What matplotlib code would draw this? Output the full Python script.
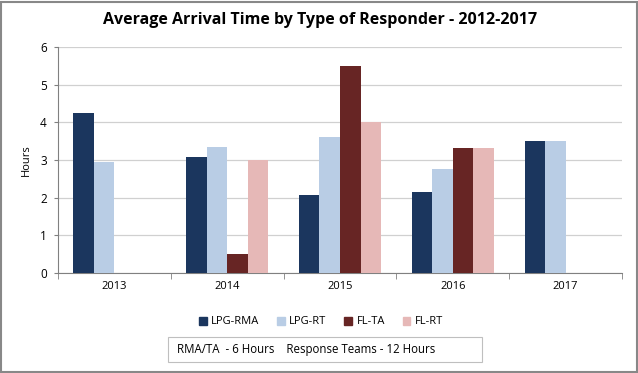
import matplotlib
matplotlib.use("Agg")
import matplotlib.pyplot as plt
import numpy as np
from matplotlib.patches import Rectangle, Patch

years = ["2013", "2014", "2015", "2016", "2017"]
series_names = ["LPG-RMA", "LPG-RT", "FL-TA", "FL-RT"]
lpg_rma = [4.25, 3.08, 2.06, 2.14, 3.5]
lpg_rt = [2.95, 3.35, 3.61, 2.76, 3.5]
fl_ta = [np.nan, 0.5, 5.5, 3.32, np.nan]
fl_rt = [np.nan, 3.0, 4.0, 3.32, np.nan]
colors = ["#1B365E", "#B9CDE5", "#672524", "#E6B8B7"]

plt.rcParams['font.family'] = ['Open Sans', 'DejaVu Sans']

fig = plt.figure(figsize=(6.38, 3.73), dpi=100)
ax = fig.add_axes([58/638, 1-272.7/373, (622-58)/638, (272.7-47.3)/373])

x = np.arange(len(years))
w = 1/5.5
data = [lpg_rma, lpg_rt, fl_ta, fl_rt]
for i, (vals, c) in enumerate(zip(data, colors)):
    ax.bar(x + (i-1.5)*w, vals, width=w, color=c, zorder=3, linewidth=0)

ax.set_xlim(-0.5, len(years)-0.5)
ax.set_ylim(0, 6)
ax.set_yticks(range(0, 7))
ax.yaxis.grid(True, color="#D0D0D0", linewidth=0.9, zorder=0)
ax.set_xticks(x)
ax.set_xticklabels(years, fontsize=8)
ax.set_xticks(np.arange(-0.5, len(years)), minor=True)
ax.tick_params(axis='x', which='major', length=0, pad=6)
ax.tick_params(axis='x', which='minor', length=4, color="#808080", direction='out')
ax.tick_params(axis='y', length=3, color="#808080", labelsize=8.5, pad=5)
for s in ["top", "right"]:
    ax.spines[s].set_visible(False)
for s in ["left", "bottom"]:
    ax.spines[s].set_color("#808080")
ax.set_ylabel("Hours", fontsize=8, labelpad=6)

fig.text(320/638, 1-20/373, "Average Arrival Time by Type of Responder - 2012-2017",
         ha="center", va="center", fontsize=11.5, fontweight="bold")

handles = [Patch(color=c) for c in colors]
fig.legend(handles, series_names, loc="center", bbox_to_anchor=(321/638, 1-322/373),
           ncol=4, frameon=False, fontsize=8, handlelength=0.7, handleheight=0.7,
           columnspacing=1.6, handletextpad=0.4)

fig.patches.append(Rectangle((168/638, 1-362/373), (482-168)/638, 25/373,
                             transform=fig.transFigure, fill=False,
                             edgecolor="#BFBFBF", linewidth=0.8))
fig.text(177/638, 1-349.5/373, "RMA/TA  - 6 Hours    Response Teams - 12 Hours",
         ha="left", va="center", fontsize=8.3)

fig.patches.append(Rectangle((0.5/638, 1.5/373), 636/638, 370/373,
                             transform=fig.transFigure, fill=False,
                             edgecolor="#888888", linewidth=1.5))

fig.savefig("out.png", dpi=100)
